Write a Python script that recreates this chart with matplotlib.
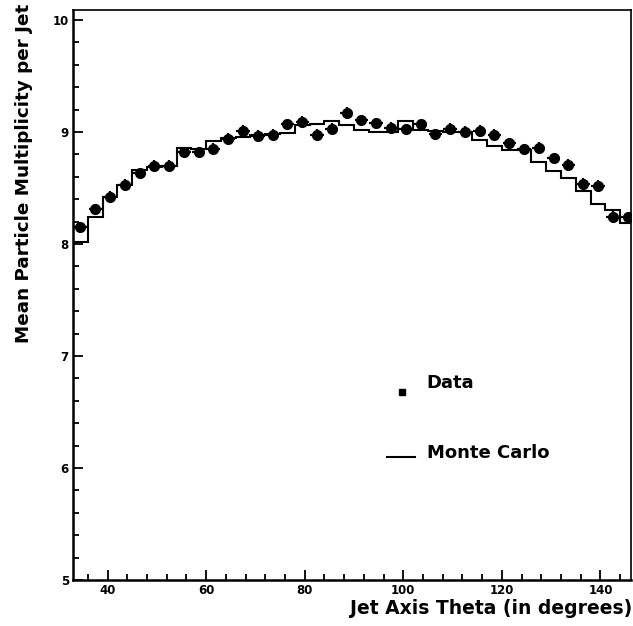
import numpy as np
import matplotlib
matplotlib.use("Agg")
import matplotlib.pyplot as plt
from matplotlib.ticker import MultipleLocator

# Jet axis polar angle, bin centres (degrees), 3-degree bins
theta = [34.5, 37.5, 40.5, 43.5, 46.5, 49.5, 52.5, 55.5, 58.5, 61.5,
         64.5, 67.5, 70.5, 73.5, 76.5, 79.5, 82.5, 85.5, 88.5, 91.5,
         94.5, 97.5, 100.5, 103.5, 106.5, 109.5, 112.5, 115.5, 118.5, 121.5,
         124.5, 127.5, 130.5, 133.5, 136.5, 139.5, 142.5, 145.5]
bin_half = 1.5

# Measured mean multiplicity per jet
data_mult = [8.15, 8.31, 8.42, 8.53, 8.63, 8.70, 8.70, 8.82, 8.82, 8.85,
             8.94, 9.01, 8.965, 8.975, 9.07, 9.09, 8.975, 9.03, 9.17, 9.105,
             9.08, 9.04, 9.025, 9.07, 8.98, 9.03, 9.00, 9.01, 8.975, 8.90,
             8.845, 8.86, 8.765, 8.705, 8.54, 8.52, 8.245, 8.24]
data_err = 0.05

# Simulated mean multiplicity per jet
mc_mult = [8.02, 8.24, 8.42, 8.53, 8.66, 8.69, 8.70, 8.86, 8.85, 8.92,
           8.95, 8.96, 8.97, 8.98, 8.99, 9.06, 9.07, 9.10, 9.06, 9.02,
           9.00, 9.00, 9.10, 9.02, 9.01, 9.00, 9.00, 8.93, 8.88, 8.84,
           8.84, 8.735, 8.655, 8.59, 8.47, 8.36, 8.30, 8.185]

x_label = "Jet Axis Theta (in degrees)"
y_label = "Mean Particle Multiplicity per Jet"
legend_labels = ["Data", "Monte Carlo"]

plt.rcParams["font.family"] = ["DejaVu Sans"]

W, H = 633, 626
fig = plt.figure(figsize=(W / 100, H / 100), dpi=100)
L, R, B, T = 73, 631, 580, 10
ax = fig.add_axes([L / W, 1 - B / H, (R - L) / W, (B - T) / H])

theta_a = np.asarray(theta)
edges = np.append(theta_a - bin_half, theta_a[-1] + bin_half)
ax.stairs(mc_mult, edges, color="black", lw=1.5, baseline=None)

ax.errorbar(theta, data_mult, xerr=bin_half * 0.9, yerr=data_err, fmt="o",
            color="black", ms=7, elinewidth=1.6, capsize=0)

ax.set_xlim(33, 146.2)
ax.set_ylim(5, 10.09)

ax.xaxis.set_major_locator(MultipleLocator(20))
ax.xaxis.set_minor_locator(MultipleLocator(4))
ax.yaxis.set_major_locator(MultipleLocator(1))
ax.yaxis.set_minor_locator(MultipleLocator(0.2))
ax.tick_params(which="both", direction="in", top=False, right=False,
               width=1.3, labelsize=8.5)
ax.tick_params(which="major", length=7, pad=3)
ax.tick_params(which="minor", length=4)
for lab in ax.get_xticklabels() + ax.get_yticklabels():
    lab.set_fontweight("bold")
for side in ["left", "bottom"]:
    ax.spines[side].set_linewidth(1.8)
for side in ["top", "right"]:
    ax.spines[side].set_linewidth(1.2)

fig.text(632 / W, 1 - 608 / H, x_label, ha="right", va="center",
         fontsize=13.5, fontweight="bold")
fig.text(24 / W, 1 - 4 / H, y_label, ha="center", va="top", rotation=90,
         fontsize=13.2, fontweight="bold")

# Legend
ax.plot([0.589], [0.330], marker="s", ms=5, color="black",
        transform=ax.transAxes, clip_on=False)
ax.text(0.634, 0.345, legend_labels[0], transform=ax.transAxes,
        ha="left", va="center", fontsize=13, fontweight="bold")
ax.plot([0.562, 0.613], [0.215, 0.215], color="black", lw=1.5,
        transform=ax.transAxes)
ax.text(0.634, 0.223, legend_labels[1], transform=ax.transAxes,
        ha="left", va="center", fontsize=13, fontweight="bold")

fig.savefig("out.png", dpi=100)
